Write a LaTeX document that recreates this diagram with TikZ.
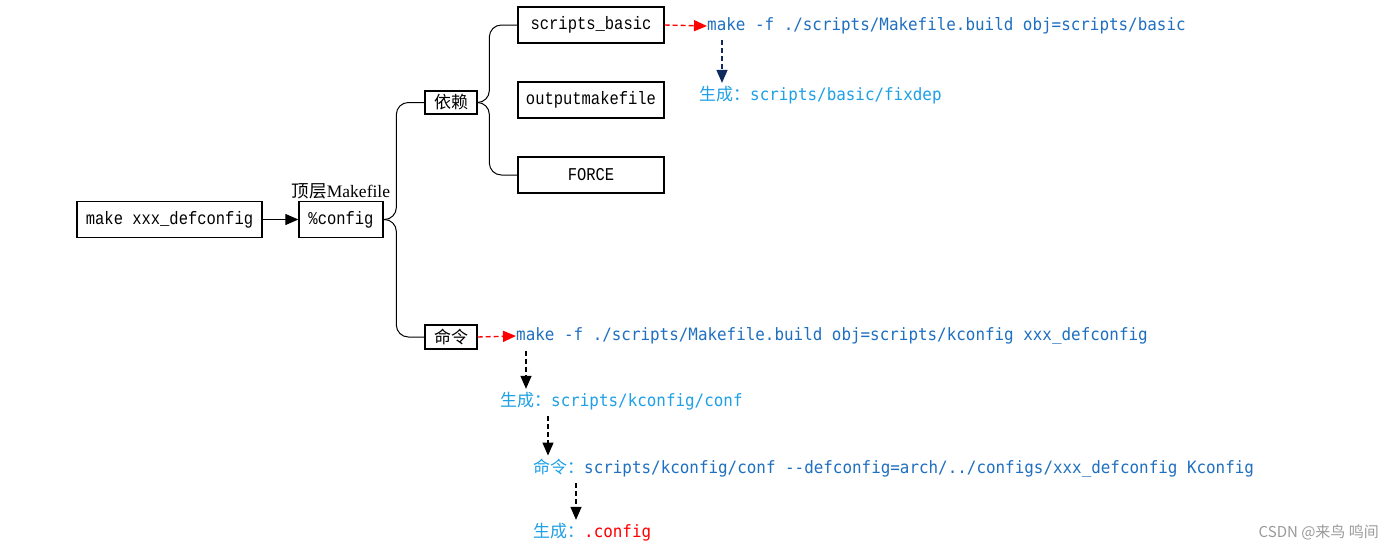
\documentclass[tikz,border=0pt]{standalone}
\usepackage{fontspec}
\setmainfont{Liberation Serif}
\newfontfamily\boxfont[FakeStretch=0.86]{Liberation Mono}
\newfontfamily\codefont[FakeStretch=0.935]{DejaVu Sans Mono}
\newfontfamily\cjk{Noto Sans CJK SC}
\usetikzlibrary{arrows.meta}
\definecolor{codeblue}{HTML}{1F6FC0}
\definecolor{lightblue}{HTML}{1EA0E6}
\definecolor{navyblue}{HTML}{0F2A5C}
\definecolor{wmgray}{HTML}{9A9A9A}
\tikzset{
  box/.style={draw, line width=1.3pt, minimum height=36pt, inner sep=0pt, font=\boxfont\fontsize{18}{20}\selectfont},
  cjkbox/.style={box, minimum width=52pt, minimum height=24pt, font=\cjk\fontsize{17}{19}\selectfont},
  code/.style={anchor=west, inner sep=0pt, text=codeblue, font=\codefont\fontsize{17}{19}\selectfont},
  conn/.style={line width=1pt, rounded corners=12pt},
  tip/.style={-{Triangle[length=13pt,width=11pt]}},
  reddash/.style={tip, red, line width=1.4pt, dash pattern=on 5pt off 3pt},
  navydash/.style={tip, navyblue, line width=1.4pt, dash pattern=on 5pt off 3pt},
  blackdash/.style={tip, black, line width=1.3pt, dash pattern=on 5pt off 3pt},
}
\begin{document}
\begin{tikzpicture}[x=1pt,y=-1pt]
\useasboundingbox (0,0) rectangle (1393,552);
% boxes
\node[box, minimum width=185pt] (mk) at (169.5,219.5) {make xxx\_defconfig};
\node[box, minimum width=84pt] (cfg) at (341,219.5) {\%config};
\node[anchor=south, inner sep=0pt, font=\fontsize{17.5}{19}\selectfont] (top) at (341,199) {{\cjk 顶层}Makefile};
\node[cjkbox, minimum height=23pt] (dep) at (451,102.5) {依赖};
\node[box, minimum width=146pt] (sb) at (591,25) {scripts\_basic};
\node[box, minimum width=146pt] (om) at (591,100) {outputmakefile};
\node[box, minimum width=146pt] (force) at (591,175) {FORCE};
\node[cjkbox] (cmd) at (451,337) {命令};
% connectors
\draw[tip, line width=1.2pt] (mk.east) -- (cfg.west);
\draw[conn] (cfg.east) -| ([xshift=-28pt]dep.west) -- (dep.west);
\draw[conn] (cfg.east) -| ([xshift=-28pt]cmd.west) -- (cmd.west);
\draw[conn] (dep.east) -| ([xshift=-28pt]sb.west) -- (sb.west);
\draw[conn] (dep.east) -| ([xshift=-28pt]force.west) -- (force.west);
% upper chain
\node[code] (m1) at (707,26) {make -f ./scripts/Makefile.build obj=scripts/basic};
\node[code, text=lightblue] (g1) at (699,95) {{\cjk 生成：}scripts/basic/fixdep};
\draw[reddash] (sb.east) -- (m1.west);
\draw[navydash] ([xshift=15pt,yshift=-6pt]m1.south west) -- ([xshift=23pt,yshift=3pt]g1.north west);
% lower chain
\node[code] (m2) at (516,336) {make -f ./scripts/Makefile.build obj=scripts/kconfig xxx\_defconfig};
\node[code, text=lightblue] (g2) at (500,401) {{\cjk 生成：}scripts/kconfig/conf};
\node[code] (c3) at (533,468) {\textcolor{lightblue}{\cjk 命令：}scripts/kconfig/conf -\kern0pt-defconfig=arch/../configs/xxx\_defconfig Kconfig};
\node[code] (g4) at (533,532) {\textcolor{lightblue}{\cjk 生成：}\textcolor{red}{.config}};
\draw[reddash] (cmd.east) -- (m2.west);
\draw[blackdash] ([xshift=10pt,yshift=-6pt]m2.south west) -- ([xshift=26pt,yshift=3pt]g2.north west);
\draw[blackdash] ([xshift=48pt,yshift=-6pt]g2.south west) -- ([xshift=15pt,yshift=3pt]c3.north west);
\draw[blackdash] ([xshift=43pt,yshift=-6pt]c3.south west) -- ([xshift=43pt,yshift=3pt]g4.north west);
% watermark
\node[anchor=east, inner sep=0pt, text=wmgray, font=\cjk\fontsize{15}{18}\selectfont] (wm) at (1379,532) {CSDN @来鸟 鸣间};
\end{tikzpicture}
\end{document}
